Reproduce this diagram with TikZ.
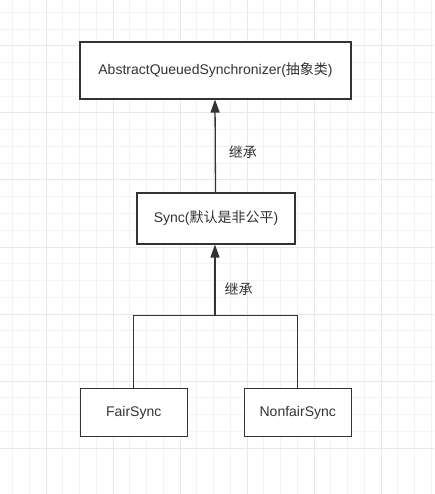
\documentclass[tikz,border=0pt]{standalone}
\usepackage{fontspec}
\setmainfont{Liberation Sans}
\newfontfamily\cjk{Noto Sans CJK SC}
\usetikzlibrary{arrows.meta, positioning}
\definecolor{ink}{HTML}{333333}
\definecolor{gridminor}{HTML}{F3F3F3}
\definecolor{gridmajor}{HTML}{E8E8E8}

\begin{document}
\begin{tikzpicture}[x=1pt,y=-1pt,
    every node/.style={font=\fontsize{14}{16}\selectfont, text=ink},
    box/.style={draw=ink, line width=1.1pt, fill=white, inner sep=0pt},
    inherit/.style={draw=ink, line width=1.3pt, -{Triangle[length=13pt,width=9pt]}},
    link/.style={draw=ink, line width=1.3pt},
    tag/.style={anchor=west, inner sep=0pt}]
    \useasboundingbox (0,0) rectangle (434,494);
    % background grid
    \foreach \i in {0,...,25}{
        \draw[gridminor, line width=1pt] (12.5+16.75*\i,0) -- ++(0,494);
        \draw[gridminor, line width=1pt] (0,12.5+16.75*\i) -- ++(434,0);
    }
    \foreach \i in {0,...,6}{
        \draw[gridmajor, line width=1pt] (46+67*\i,0) -- ++(0,494);
        \draw[gridmajor, line width=1pt] (0,46+67*\i) -- ++(434,0);
    }
    \node[box, minimum width=271pt, minimum height=57pt] (AQS) at (215.5,70.5)
        {AbstractQueuedSynchronizer({\cjk 抽象类})};
    \node[box, minimum width=158pt, minimum height=51pt] (Sync) at (216,218.5)
        {Sync({\cjk 默认是非公平})};
    \node[box, minimum width=107pt, minimum height=48pt] (Fair) at (133.75,412.7) {FairSync};
    \node[box, minimum width=107pt, minimum height=48pt] (Nonfair) at (297.75,412.7) {NonfairSync};
    \coordinate (join) at (215,315.7);
    %\coordinate (join) at ($(Fair.north)!0.5!(Nonfair.north)$);
    \draw[inherit] (Sync.north -| AQS.south) -- node[tag, pos=0.43, xshift=13pt] {\cjk 继承} (AQS.south -| join);
    \draw[inherit] (join) -- node[tag, pos=0.37, xshift=9pt] {\cjk 继承} (Sync.south -| join);
    \draw[link] (Fair.north) |- (join) -| (Nonfair.north);
\end{tikzpicture}
\end{document}
